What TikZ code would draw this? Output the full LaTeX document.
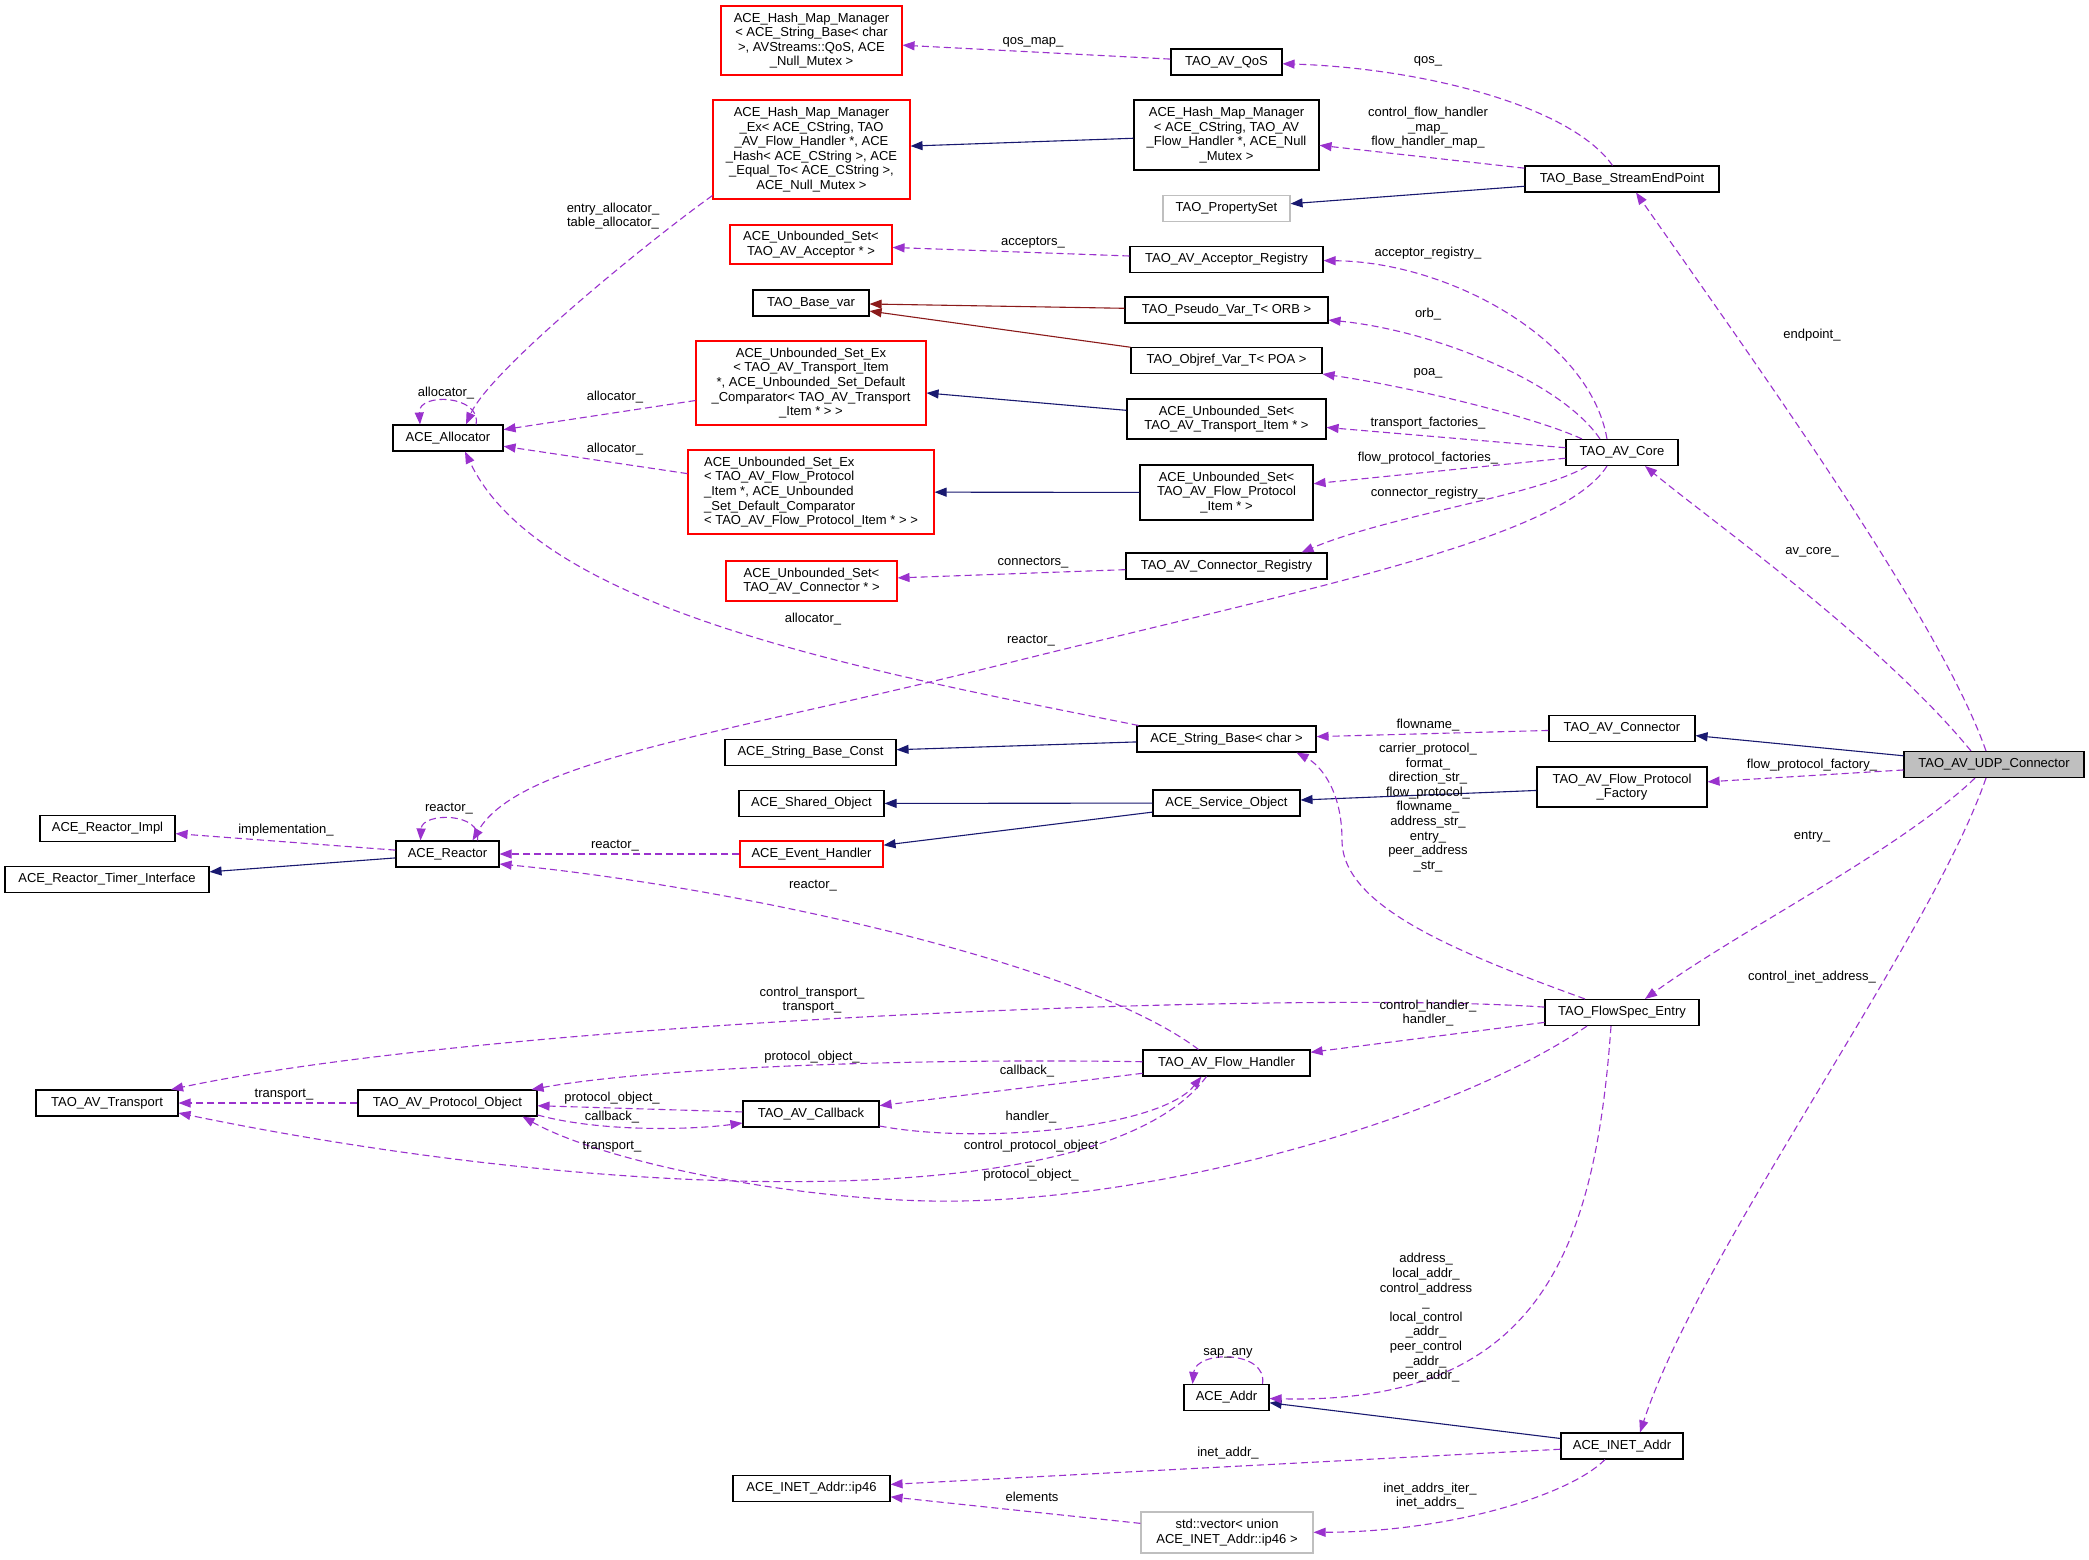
\documentclass[tikz,border=0pt]{standalone}
\usepackage{fontspec}
\setmainfont{Liberation Sans}
\usetikzlibrary{arrows.meta}
\definecolor{usecol}{HTML}{9A32CD}
\definecolor{inhcol}{HTML}{191970}
\definecolor{tplcol}{HTML}{8B1A1A}
\definecolor{redcol}{HTML}{FF0000}
\definecolor{greycol}{HTML}{BFBFBF}

\begin{document}
\begin{tikzpicture}[x=1pt,y=-1pt,font=\fontsize{13}{14.6}\selectfont,
    box/.style={draw,line width=1.1pt,fill=white,inner xsep=3pt,inner ysep=0pt,minimum height=26,align=center},
    redbox/.style={box,draw=redcol},
    greybox/.style={box,draw=greycol},
    lbl/.style={inner sep=0pt,align=center},
    headtip/.style={-{Triangle[length=12pt,width=9pt]}},
    uses/.style={headtip,draw=usecol,line width=1.1pt,dash pattern=on 7pt off 4pt},
    inh/.style={headtip,draw=inhcol,line width=1.1pt},
    tpl/.style={headtip,draw=tplcol,line width=1.1pt}]
    \useasboundingbox[fill=white] (0,0) rectangle (2089,1559);

    % classes
    \node[redbox,minimum width=181,minimum height=69] (hmQos) at (811.5,40.5) {ACE\_Hash\_Map\_Manager\\< ACE\_String\_Base< char\\>, AVStreams::QoS, ACE\\\_Null\_Mutex >};
    \node[redbox,minimum width=197,minimum height=99] (hmEx) at (811.5,149.5) {ACE\_Hash\_Map\_Manager\\\_Ex< ACE\_CString, TAO\\\_AV\_Flow\_Handler *, ACE\\\_Hash< ACE\_CString >, ACE\\\_Equal\_To< ACE\_CString >,\\ACE\_Null\_Mutex >};
    \node[redbox,minimum width=162,minimum height=39] (usAcceptor) at (811,244.5) {ACE\_Unbounded\_Set<\\TAO\_AV\_Acceptor * >};
    \node[box,minimum width=116] (baseVar) at (811,303) {TAO\_Base\_var};
    \node[redbox,minimum width=230,minimum height=84] (usExTransport) at (811,383) {ACE\_Unbounded\_Set\_Ex\\< TAO\_AV\_Transport\_Item\\ *, ACE\_Unbounded\_Set\_Default\\\_Comparator< TAO\_AV\_Transport\\\_Item * > >};
    \node[redbox,minimum width=246,minimum height=84,align=left] (usExFlow) at (811,492) {ACE\_Unbounded\_Set\_Ex\\< TAO\_AV\_Flow\_Protocol\\\_Item *, ACE\_Unbounded\\\_Set\_Default\_Comparator\\< TAO\_AV\_Flow\_Protocol\_Item * > >};
    \node[redbox,minimum width=171,minimum height=40] (usConnector) at (811.5,581) {ACE\_Unbounded\_Set<\\TAO\_AV\_Connector * >};
    \node[box,minimum width=171] (strBaseConst) at (810.5,752.5) {ACE\_String\_Base\_Const};
    \node[box,minimum width=145] (sharedObj) at (811.5,803.5) {ACE\_Shared\_Object};
    \node[redbox,minimum width=143] (eventHandler) at (811.5,854) {ACE\_Event\_Handler};
    \node[box,minimum width=136] (callback) at (811,1114) {TAO\_AV\_Callback};
    \node[box,minimum width=157] (ip46) at (811.5,1488.5) {ACE\_INET\_Addr::ip46};

    \node[box,minimum width=111] (avQos) at (1226.5,62) {TAO\_AV\_QoS};
    \node[box,minimum width=185,minimum height=70] (hmMgr) at (1226.5,135) {ACE\_Hash\_Map\_Manager\\< ACE\_CString, TAO\_AV\\\_Flow\_Handler *, ACE\_Null\\\_Mutex >};
    \node[greybox,minimum width=127] (propSet) at (1226.5,208.5) {TAO\_PropertySet};
    \node[box,minimum width=193] (acceptorReg) at (1226.5,259.5) {TAO\_AV\_Acceptor\_Registry};
    \node[box,minimum width=203] (pseudoVar) at (1226.5,310) {TAO\_Pseudo\_Var\_T< ORB >};
    \node[box,minimum width=191] (objrefVar) at (1226.5,360.5) {TAO\_Objref\_Var\_T< POA >};
    \node[box,minimum width=199,minimum height=40] (usTransport) at (1226.5,419) {ACE\_Unbounded\_Set<\\TAO\_AV\_Transport\_Item * >};
    \node[box,minimum width=173,minimum height=55] (usFlow) at (1226.5,492.5) {ACE\_Unbounded\_Set<\\TAO\_AV\_Flow\_Protocol\\\_Item * >};
    \node[box,minimum width=201] (connReg) at (1226.5,566) {TAO\_AV\_Connector\_Registry};
    \node[box,minimum width=179] (strBase) at (1226.5,739) {ACE\_String\_Base< char >};
    \node[box,minimum width=147] (serviceObj) at (1226.5,803) {ACE\_Service\_Object};
    \node[box,minimum width=167] (flowHandler) at (1226.5,1063) {TAO\_AV\_Flow\_Handler};
    \node[box,minimum width=85] (aceAddr) at (1226.5,1397.5) {ACE\_Addr};
    \node[greybox,minimum width=172,minimum height=41] (stdVector) at (1227,1532.5) {std::vector< union\\ ACE\_INET\_Addr::ip46 >};

    \node[box,minimum width=110] (allocator) at (448,438) {ACE\_Allocator};
    \node[box,minimum width=103] (reactor) at (447.5,854) {ACE\_Reactor};
    \node[box,minimum width=179] (protObj) at (447.5,1103) {TAO\_AV\_Protocol\_Object};
    \node[box,minimum width=135] (reactorImpl) at (107.5,828.5) {ACE\_Reactor\_Impl};
    \node[box,minimum width=204] (timerIf) at (107,879.5) {ACE\_Reactor\_Timer\_Interface};
    \node[box,minimum width=142] (transport) at (107,1103) {TAO\_AV\_Transport};

    \node[box,minimum width=194] (streamEP) at (1622,179) {TAO\_Base\_StreamEndPoint};
    \node[box,minimum width=112] (avCore) at (1622,452.5) {TAO\_AV\_Core};
    \node[box,minimum width=146] (avConnector) at (1622,728.5) {TAO\_AV\_Connector};
    \node[box,minimum width=170,minimum height=40] (flowProtFactory) at (1622,787) {TAO\_AV\_Flow\_Protocol\\\_Factory};
    \node[box,minimum width=154] (flowSpec) at (1622,1012.5) {TAO\_FlowSpec\_Entry};
    \node[box,minimum width=122] (inetAddr) at (1622,1446) {ACE\_INET\_Addr};
    \node[box,fill=greycol,minimum width=180] (udpConn) at (1994,764.5) {TAO\_AV\_UDP\_Connector};

    % inheritance
    \draw[inh] (hmMgr) -- (hmEx);
    \draw[inh] (streamEP) -- (propSet);
    \draw[inh] (usTransport) -- (usExTransport);
    \draw[inh] (usFlow) -- (usExFlow);
    \draw[inh] (udpConn) -- (avConnector);
    \draw[inh] (strBase) -- (strBaseConst);
    \draw[inh] (flowProtFactory) -- (serviceObj);
    \draw[inh] (serviceObj) -- (sharedObj);
    \draw[inh] (serviceObj) -- (eventHandler);
    \draw[inh] (reactor) -- (timerIf);
    \draw[inh] (inetAddr) -- (aceAddr);
    \draw[tpl] (pseudoVar) -- (baseVar);
    \draw[tpl] (objrefVar) -- (baseVar);

    % usage
    \draw[uses] (avQos) -- (hmQos);
    \draw[uses] (streamEP) .. controls (1570,105) and (1420,68) .. (avQos);
    \draw[uses] (streamEP) -- (hmMgr);
    \draw[uses] ([xshift=-8pt]udpConn.north) .. controls (1940,620) and (1760,370) .. ([xshift=14pt]streamEP.south);
    \draw[uses] (acceptorReg) -- (usAcceptor);
    \draw[uses] ([xshift=-15pt]avCore.north) .. controls (1590,340) and (1450,262) .. (acceptorReg);
    \draw[uses] ([xshift=-22pt]avCore.north) .. controls (1560,380) and (1430,330) .. (pseudoVar);
    \draw[uses] ([xshift=-40pt]avCore.north) .. controls (1530,415) and (1400,385) .. (objrefVar);
    \draw[uses] (avCore) -- (usTransport);
    \draw[uses] (avCore) -- (usFlow);
    \draw[uses] ([xshift=-35pt]avCore.south) .. controls (1540,495) and (1390,515) .. ([xshift=75pt]connReg.north);
    \draw[uses] ([xshift=-15pt]avCore.south) .. controls (1560,540) and (1300,590) .. (1000,665) .. controls (720,735) and (520,760) .. ([xshift=25pt]reactor.north);
    \draw[uses] ([xshift=-23pt]udpConn.north) .. controls (1880,640) and (1710,520) .. ([xshift=23pt]avCore.south);
    \draw[uses] (connReg) -- (usConnector);
    \draw[uses] ([yshift=4pt]hmEx.south west) .. controls (650,240) and (490,370) .. ([xshift=18pt]allocator.north);
    \draw[uses] ([xshift=28pt]allocator.north) .. controls (482,395) and (418,392) .. ([xshift=-28pt]allocator.north);
    \draw[uses] (usExTransport) -- (allocator);
    \draw[uses] (usExFlow) -- (allocator);
    \draw[uses] ([xshift=-88pt]strBase.north) .. controls (860,670) and (540,610) .. ([xshift=17pt]allocator.south);
    \draw[uses] (avConnector) -- (strBase);
    \draw[uses] (udpConn) -- (flowProtFactory);
    \draw[uses] ([xshift=-37pt]flowSpec.north) .. controls (1450,950) and (1342,905) .. (1342,840) .. controls (1342,790) and (1320,765) .. ([xshift=70pt]strBase.south);
    \draw[uses] ([xshift=-19pt]udpConn.south) .. controls (1900,850) and (1740,930) .. ([xshift=23pt]flowSpec.north);
    \draw[uses] ([xshift=-8pt]udpConn.south) .. controls (1930,940) and (1700,1250) .. ([xshift=18pt]inetAddr.north);
    \draw[uses] (eventHandler) -- (reactor);
    \draw[uses] (reactor) -- (reactorImpl);
    \draw[uses] ([xshift=30pt]reactor.north) .. controls (483,812) and (422,812) .. ([xshift=-27pt]reactor.north);
    \draw[uses] ([xshift=-28pt]flowHandler.north) .. controls (1080,960) and (720,885) .. ([yshift=-10pt]reactor.east);
    \draw[uses] (flowSpec) .. controls (1300,990) and (500,1020) .. (transport);
    \draw[uses] (flowSpec) -- (flowHandler);
    \draw[uses] (flowHandler) .. controls (900,1058) and (650,1068) .. ([xshift=-6pt]protObj.north east);
    \draw[uses] (flowHandler) -- (callback);
    \draw[uses] (protObj) -- (transport);
    \draw[uses] (callback) -- (protObj);
    \draw[uses] ([yshift=-12pt]protObj.east) .. controls (600,1132) and (690,1130) .. ([yshift=-9pt]callback.west);
    \draw[uses] ([yshift=-12pt]callback.east) .. controls (980,1145) and (1160,1128) .. ([xshift=-25pt]flowHandler.south);
    \draw[uses] ([xshift=-20pt]flowHandler.south) .. controls (1100,1220) and (600,1200) .. ([yshift=-10pt]transport.east);
    \draw[uses] ([xshift=-35pt]flowSpec.south) .. controls (1450,1120) and (1150,1205) .. (930,1201) .. controls (780,1198) and (600,1160) .. ([xshift=75pt]protObj.south);
    \draw[uses] ([xshift=-11pt]flowSpec.south) .. controls (1595,1250) and (1540,1405) .. (aceAddr);
    \draw[uses] ([xshift=36pt]aceAddr.north) .. controls (1268,1350) and (1196,1350) .. ([xshift=-34pt]aceAddr.north);
    \draw[uses] (inetAddr) -- (ip46);
    \draw[uses] ([xshift=-17pt]inetAddr.south) .. controls (1570,1495) and (1450,1532) .. (stdVector);
    \draw[uses] (stdVector) -- (ip46);

    % member names
    \node[lbl] (lQosMap) at (1033,42) {qos\_map\_};
    \node[lbl] (lQos) at (1428,61) {qos\_};
    \node[lbl] (lHandlerMap) at (1428,128) {control\_flow\_handler\\\_map\_\\flow\_handler\_map\_};
    \node[lbl] (lEntryAlloc) at (613,216) {entry\_allocator\_\\table\_allocator\_};
    \node[lbl] (lAcceptors) at (1033,243) {acceptors\_};
    \node[lbl] (lAcceptorReg) at (1428,253) {acceptor\_registry\_};
    \node[lbl] (lOrb) at (1428,314) {orb\_};
    \node[lbl] (lEndpoint) at (1812,335) {endpoint\_};
    \node[lbl] (lPoa) at (1428,373) {poa\_};
    \node[lbl] (lAllocSelf) at (446,393) {allocator\_};
    \node[lbl] (lAllocA) at (615,397) {allocator\_};
    \node[lbl] (lTransportFac) at (1428,423) {transport\_factories\_};
    \node[lbl] (lAllocB) at (615,449) {allocator\_};
    \node[lbl] (lFlowFac) at (1428,458) {flow\_protocol\_factories\_};
    \node[lbl] (lConnReg) at (1428,493) {connector\_registry\_};
    \node[lbl] (lAvCore) at (1812,552) {av\_core\_};
    \node[lbl] (lConnectors) at (1033,563) {connectors\_};
    \node[lbl] (lAllocC) at (813,619) {allocator\_};
    \node[lbl] (lReactorA) at (1031,641) {reactor\_};
    \node[lbl] (lFlowname) at (1428,725) {flowname\_};
    \node[lbl] (lFactory) at (1812,765) {flow\_protocol\_factory\_};
    \node[lbl] (lStrings) at (1428,807.5) {carrier\_protocol\_\\format\_\\direction\_str\_\\flow\_protocol\_\\flowname\_\\address\_str\_\\entry\_\\peer\_address\\\_str\_};
    \node[lbl] (lReactorSelf) at (449,809) {reactor\_};
    \node[lbl] (lImpl) at (286,830) {implementation\_};
    \node[lbl] (lEntry) at (1812,837) {entry\_};
    \node[lbl] (lReactorB) at (615,846) {reactor\_};
    \node[lbl] (lReactorC) at (813,886) {reactor\_};
    \node[lbl] (lInetCtl) at (1812,977) {control\_inet\_address\_};
    \node[lbl] (lCtlTransport) at (812,1000) {control\_transport\_\\transport\_};
    \node[lbl] (lCtlHandler) at (1428,1013) {control\_handler\_\\handler\_};
    \node[lbl] (lProtA) at (812,1057) {protocol\_object\_};
    \node[lbl] (lCallbackA) at (1027,1071) {callback\_};
    \node[lbl] (lTransportA) at (284,1095) {transport\_};
    \node[lbl] (lProtB) at (612,1098) {protocol\_object\_};
    \node[lbl] (lCallbackB) at (612,1117) {callback\_};
    \node[lbl] (lHandler) at (1031,1117) {handler\_};
    \node[lbl] (lTransportB) at (612,1147) {transport\_};
    \node[lbl] (lCtlProt) at (1031,1161) {control\_protocol\_object\\\_\\protocol\_object\_};
    \node[lbl] (lAddrs) at (1426,1318) {address\_\\local\_addr\_\\control\_address\\\_\\local\_control\\\_addr\_\\peer\_control\\\_addr\_\\peer\_addr\_};
    \node[lbl] (lSapAny) at (1228,1353) {sap\_any};
    \node[lbl] (lInetAddr) at (1228,1453) {inet\_addr\_};
    \node[lbl] (lInetAddrs) at (1430,1496) {inet\_addrs\_iter\_\\inet\_addrs\_};
    \node[lbl] (lElements) at (1032,1497) {elements};
  \end{tikzpicture}
\end{document}
